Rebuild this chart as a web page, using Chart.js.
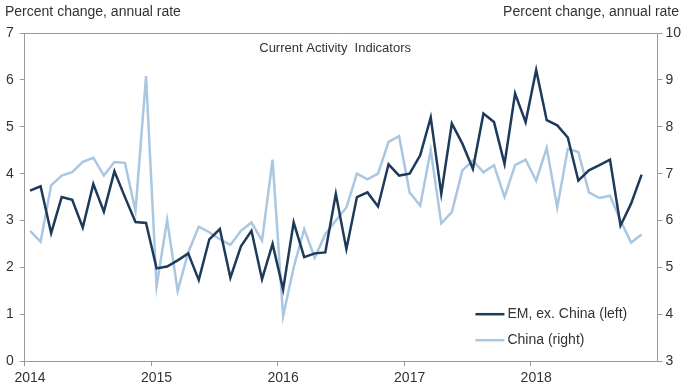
<!DOCTYPE html>
<html>
<head>
<meta charset="utf-8">
<script src="https://cdn.jsdelivr.net/npm/chart.js"></script>
<style>
  body { margin: 0; background: #fff; }
  #wrap { width: 684px; height: 387px; position: relative; }
</style>
</head>
<body>
<div id="wrap"><canvas id="chartActividad"></canvas></div>
<script>
const years = ['2014', '2015', '2016', '2017', '2018'];
// one slot per month, 2014-01 .. 2018-12
const months = [];
years.forEach(y => { for (let m = 1; m <= 12; m++) months.push(y + '-' + String(m).padStart(2, '0')); });

const emExChina = [3.64, 3.73, 2.73, 3.5, 3.44, 2.85, 3.78, 3.19, 4.05, 3.5, 2.97, 2.95,
  1.98, 2.02, 2.15, 2.3, 1.73, 2.6, 2.82, 1.78, 2.45, 2.78, 1.75, 2.5,
  1.53, 2.96, 2.22, 2.3, 2.32, 3.57, 2.39, 3.5, 3.6, 3.3, 4.2, 3.96,
  4.0, 4.39, 5.2, 3.57, 5.07, 4.64, 4.1, 5.28, 5.1, 4.21, 5.71, 5.1,
  6.21, 5.14, 5.03, 4.77, 3.85, 4.07, 4.18, 4.3, 2.89, 3.36, 3.98];

const china = [5.78, 5.55, 6.75, 6.96, 7.03, 7.25, 7.34, 6.96, 7.25, 7.23, 6.21, 9.08,
  4.6, 6.01, 4.5, 5.32, 5.87, 5.75, 5.6, 5.48, 5.78, 5.96, 5.57, 7.3,
  3.96, 5.0, 5.82, 5.21, 5.71, 6.0, 6.28, 7.0, 6.88, 7.0, 7.68, 7.8,
  6.6, 6.32, 7.5, 5.94, 6.18, 7.07, 7.28, 7.03, 7.18, 6.5, 7.18, 7.3,
  6.85, 7.55, 6.28, 7.53, 7.46, 6.6, 6.48, 6.53, 6.0, 5.53, 5.7];

const axisColor = '#9a9a9a';
const textColor = '#333';
const fontFam = '"Liberation Sans", Arial, sans-serif';

// texts, top border and the in-plot legend
const extras = {
  id: 'extras',
  afterDraw(chart) {
    const c = chart.ctx, a = chart.chartArea;
    c.save();
    c.strokeStyle = axisColor;
    c.lineWidth = 1;
    c.beginPath();
    c.moveTo(a.left, a.top + 0.5);
    c.lineTo(a.right, a.top + 0.5);
    c.stroke();

    c.fillStyle = textColor;
    c.font = '14px ' + fontFam;
    c.textBaseline = 'middle';
    c.textAlign = 'left';
    c.fillText('Percent change, annual rate', 5, 12);
    c.textAlign = 'right';
    c.fillText('Percent change, annual rate', 679, 12);

    c.font = '13px ' + fontFam;
    c.textAlign = 'center';
    c.fillText('Current Activity  Indicators', (a.left + a.right) / 2 - 6, a.top + 15);

    c.font = '14px ' + fontFam;
    c.textAlign = 'left';
    chart.data.datasets.forEach((ds, i) => {
      const y = a.bottom - 47 + i * 26;
      c.strokeStyle = ds.borderColor;
      c.lineWidth = ds.borderWidth;
      c.beginPath();
      c.moveTo(a.right - 182, y);
      c.lineTo(a.right - 153, y);
      c.stroke();
      c.fillText(ds.label, a.right - 150, y);
    });
    c.restore();
  }
};

const ctx = document.getElementById('chartActividad');

new Chart(ctx, {
  type: 'line',
  data: {
    labels: months,
    datasets: [{
      label: 'EM, ex. China (left)',
      data: emExChina,
      borderColor: '#1d3a5a',
      borderWidth: 2.5,
      pointRadius: 0,
      tension: 0,
      yAxisID: 'y'
    }, {
      label: 'China (right)',
      data: china,
      borderColor: '#a9c7e0',
      borderWidth: 2.5,
      pointRadius: 0,
      tension: 0,
      yAxisID: 'y1'
    }]
  },
  options: {
    responsive: true,
    maintainAspectRatio: false,
    animation: false,
    layout: { padding: { top: 33, left: 0, right: 0, bottom: -4 } },
    plugins: {
      legend: { display: false },
      tooltip: { enabled: false }
    },
    scales: {
      x: {
        type: 'category',
        offset: true,
        border: { color: axisColor },
        grid: {
          offset: true,
          drawOnChartArea: false,
          tickLength: 5,
          color: c => (c.index % 12 === 0 ? axisColor : 'rgba(0,0,0,0)')
        },
        ticks: {
          autoSkip: false,
          maxRotation: 0,
          padding: 4,
          color: textColor,
          font: { size: 14, family: fontFam },
          callback: function (v, i) { return i % 12 === 0 ? months[i].slice(0, 4) : ''; }
        }
      },
      y: {
        position: 'left',
        min: 0,
        max: 7,
        border: { color: axisColor },
        grid: { drawOnChartArea: false, tickLength: 5, color: axisColor },
        ticks: { stepSize: 1, padding: 6, color: textColor, font: { size: 14, family: fontFam } }
      },
      y1: {
        position: 'right',
        min: 3,
        max: 10,
        border: { color: axisColor },
        grid: { drawOnChartArea: false, tickLength: 5, color: axisColor },
        ticks: { stepSize: 1, padding: 3, color: textColor, font: { size: 14, family: fontFam } }
      }
    }
  },
  plugins: [extras]
});
</script>
</body>
</html>
